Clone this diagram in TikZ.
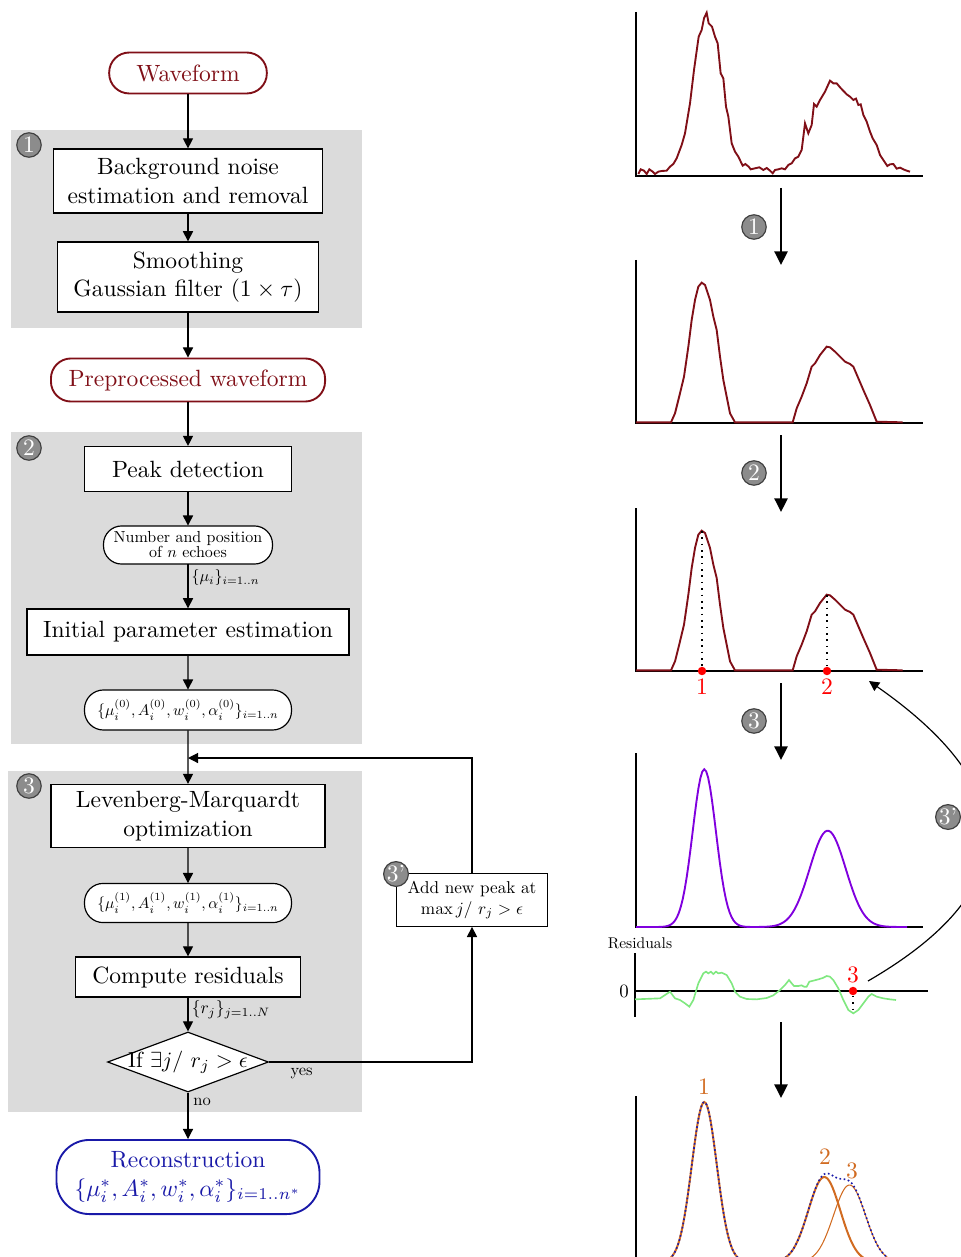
\documentclass[tikz,border=0pt]{standalone}
\usepackage{tikz}
\usetikzlibrary{arrows.meta,shapes.geometric}

\definecolor{wavered}{rgb}{0.50,0.06,0.09}
\definecolor{recblue}{rgb}{0.10,0.10,0.66}
\definecolor{fitpurple}{rgb}{0.50,0.00,0.87}
\definecolor{resgreen}{rgb}{0.50,0.91,0.50}
\definecolor{gaussorange}{rgb}{0.82,0.42,0.13}
\definecolor{stepgray}{gray}{0.86}

\tikzset{
    smalltxt/.style={scale=0.7},
    procbox/.style={draw, fill=white, align=center, inner sep=2pt},
    databox/.style={draw, fill=white, align=center, inner sep=1pt},
    ionode/.style={draw=#1, text=#1, thick, fill=white, rounded corners=8.5pt, align=center},
    stepnum/.style={circle, draw=black!75, fill=black!45, text=white, inner sep=0pt, minimum size=10.4pt},
    bigarrow/.style={line width=0.8pt, -{Triangle[width=5.6pt,length=5.8pt]}},
    axis/.style={line width=0.5pt},
    pkdot/.style={circle, fill=red, inner sep=0pt, minimum size=3.6pt},
}

\begin{document}
\begin{tikzpicture}[x=0.425pt, y=-0.425pt, line width=0.5pt,
    >={Triangle[width=4.3pt,length=4.3pt]}]
    \useasboundingbox (0,0) rectangle (960,1257);

    % grey panels of the three steps
    \fill[stepgray] (11,130) rectangle (362,328);
    \fill[stepgray] (11,432) rectangle (362,744);
    \fill[stepgray] (8,771) rectangle (362,1112);

    % flowchart
    \node[ionode=wavered, minimum width=67pt, minimum height=17.4pt] (wave) at (188,73) {Waveform};
    \node[procbox, minimum width=114.3pt, minimum height=27.2pt] (noise) at (188,181) {Background noise\\estimation and removal};
    \node[procbox, minimum width=111pt, minimum height=29.8pt] (smooth) at (188,277) {Smoothing\\Gaussian filter $(1\times\tau)$};
    \node[ionode=wavered, minimum width=116.5pt, minimum height=18.3pt] (prep) at (188,380) {Preprocessed waveform};
    \node[procbox, minimum width=88pt, minimum height=19.1pt] (peak) at (188,469) {Peak detection};
    \node[databox, scale=0.68, rounded corners=7.7pt, minimum width=105.6pt, minimum height=23.8pt] (echo) at (188,545) {Number and position\\[-2.6pt]of $n$ echoes};
    \node[procbox, minimum width=136.9pt, minimum height=19.6pt] (init) at (188,632) {Initial parameter estimation};
    \node[databox, scale=0.66, rounded corners=8.1pt, minimum width=133.3pt, minimum height=25.8pt] (par0) at (188,710) {$\{\mu_i^{(0)},A_i^{(0)},w_i^{(0)},\alpha_i^{(0)}\}_{i=1..n}$};
    \node[procbox, minimum width=116.5pt, minimum height=26.8pt] (lm) at (188,816) {Levenberg-Marquardt\\optimization};
    \node[databox, scale=0.66, rounded corners=7.9pt, minimum width=133.3pt, minimum height=25.2pt] (par1) at (188,903) {$\{\mu_i^{(1)},A_i^{(1)},w_i^{(1)},\alpha_i^{(1)}\}_{i=1..n}$};
    \node[procbox, minimum width=95.6pt, minimum height=17pt] (resid) at (188,977) {Compute residuals};
    \node[draw, fill=white, diamond, inner sep=0pt, minimum width=68.4pt, minimum height=25.5pt] (test) at (188,1062) {\makebox[0pt]{\scalebox{0.93}{If $\exists j/\ r_j>\epsilon$}}};
    \node[ionode=recblue, rounded corners=14pt, minimum width=111.8pt, minimum height=31.5pt] (rec) at (188,1177) {Reconstruction\\$\{\mu_i^*,A_i^*,w_i^*,\alpha_i^*\}_{i=1..n^*}$};
    \node[procbox, scale=0.73, minimum width=87.9pt, minimum height=30.8pt] (addpk) at (472,900) {Add new peak at\\$\max j/\ r_j>\epsilon$};
    \coordinate (merge) at (188,758);

    \path[->]
    (wave)   edge (noise)
    (noise)  edge (smooth)
    (smooth) edge (prep)
    (prep)   edge (peak)
    (peak)   edge (echo)
    (echo)   edge node[pos=0.3, anchor=west, scale=0.68, inner sep=2pt] {$\{\mu_i\}_{i=1..n}$} (init)
    (init)   edge (par0)
    (par0)   edge (lm)
    (lm)     edge (par1)
    (par1)   edge (resid)
    (resid)  edge node[pos=0.35, anchor=west, scale=0.74, inner sep=2pt] {$\{r_j\}_{j=1..N}$} (test)
    (test)   edge node[pos=0.2, anchor=west, smalltxt, inner sep=3pt] {no} (rec);
    \draw[->] (test.east) -| node[pos=0.08, below, smalltxt] {yes} (addpk.south);
    \draw[->] (addpk.north) |- (merge);

    \foreach \n/\y in {1/145,2/448,3/786}
        {\node[stepnum] (s\n) at (29,\y) {\n};}
    \node[stepnum] (sadd) at (396,874) {3'};

    % plots on the right
    \foreach \t/\b in {12/176,260/423,508/671,753/927,1096/1262}
        {\draw[axis] (636,\t) -- (636,\b) -- (923,\b);}
    \foreach \i/\a/\b in {1/188/265,2/435/512,3/683/760,4/1022/1098}
        {\coordinate (from\i) at (781,\a);
         \coordinate (to\i) at (781,\b);
         \draw[bigarrow] (from\i) -- (to\i);}
    \foreach \n/\y in {1/227,2/473,3/721}
        {\node[stepnum] (r\n) at (754,\y) {\n};}

    % raw waveform
    \draw[wavered, line width=0.8pt, shift={(620,0)}, scale=1/3] plot coordinates {
        (55,522) (62,508) (72,512) (80,522) (88,508) (98,515) (105,522) (115,515) (125,513)
        (140,512) (150,500) (160,492) (170,475) (185,435) (195,400) (210,310) (222,210)
        (236,110) (245,90) (252,55) (260,38) (266,70) (276,80) (285,110) (293,130) (302,220)
        (310,235) (318,320) (325,350) (335,430) (345,455) (355,470) (368,497) (376,492)
        (386,500) (392,508) (405,505) (418,502) (430,510) (440,504) (450,512) (458,520)
        (465,510) (475,508) (485,505) (495,508) (505,495) (515,490) (525,475) (535,470)
        (545,450) (555,370) (565,400) (575,375) (582,312) (590,320) (600,300) (615,275)
        (630,242) (640,250) (650,250) (660,262) (680,283) (690,290) (700,300) (708,296)
        (715,315) (722,313) (730,345) (740,365) (750,395) (758,415) (770,435) (780,465)
        (790,480) (802,498) (810,493) (820,492) (830,506) (840,503) (850,508) (860,512) (870,515)};

    % smoothed waveform, twice
    \foreach \dy in {250,498}
        {\draw[wavered, line width=0.8pt, shift={(620,\dy)}, scale=1/3] plot coordinates {
            (48,517) (153,517) (165,490) (180,430) (192,380) (205,290) (215,210) (225,150)
            (235,110) (245,98) (255,105) (270,150) (280,200) (290,240) (300,320) (310,390)
            (320,440) (330,490) (345,517) (518,517) (530,475) (545,440) (560,400) (575,350)
            (585,340) (600,315) (620,290) (630,292) (645,305) (660,320) (675,335) (690,342)
            (700,350) (715,385) (730,420) (750,465) (770,515) (848,517)};}

    % detected peaks
    \coordinate (top1) at (702,531);
    \coordinate (top2) at (827,595);
    \node[pkdot, label={[red, inner sep=1pt]below:1}] (pk1) at (702,671) {};
    \node[pkdot, label={[red, inner sep=1pt]below:2}] (pk2) at (827,671) {};
    \draw[dotted, line width=0.7pt] (top1) -- (pk1);
    \draw[dotted, line width=0.7pt] (top2) -- (pk2);

    % fitted model
    \draw[fitpurple, line width=0.8pt] plot[domain=636:907, samples=140]
        (\x, {927 - 157.7*exp(-0.5*((\x-704.3)/11.6)^2) - 96.3*exp(-0.5*((\x-827.7)/18)^2)});

    % residuals
    \node[scale=0.66] (reslabel) at (640,943) {Residuals};
    \draw[axis] (635,953) -- (635,1017);
    \draw[axis] (635,991) -- (928,991);
    \node[scale=0.8] (zero) at (624,991) {0};
    \draw[resgreen, line width=0.7pt, shift={(600,930)}, scale=1/3] plot coordinates {
        (105,208) (180,205) (195,195) (210,185) (225,205) (240,210) (255,220) (268,230)
        (280,210) (295,160) (310,130) (318,125) (325,130) (333,125) (340,132) (348,125)
        (355,130) (365,128) (380,135) (395,160) (405,185) (420,200) (440,207) (470,208)
        (500,204) (520,196) (540,180) (555,165) (567,150) (575,160) (582,168) (595,168)
        (605,166) (612,170) (620,170) (628,155) (640,152) (655,148) (668,144) (680,138)
        (690,140) (700,150) (715,175) (730,210) (745,240) (760,250) (775,240) (790,220)
        (805,200) (815,192) (830,200) (850,205) (870,208) (888,210)};
    \coordinate (low3) at (853,1013);
    \node[pkdot, label={[red, inner sep=1pt]above:3}] (pk3) at (853,991) {};
    \draw[dotted, line width=0.7pt] (pk3) -- (low3);

    % feedback of the new peak
    \coordinate (bstart) at (868,981);
    \coordinate (bend) at (869,681);
    \draw[->] (bstart) .. controls (1025,890) and (1025,790) .. (bend);
    \node[stepnum] (radd) at (948,817) {3'};

    % reconstruction
    \draw[gaussorange, line width=0.85pt] plot[domain=640:770, samples=80]
        (\x, {1262 - 160*exp(-0.5*((\x-704.3)/12.5)^2)});
    \draw[gaussorange, line width=0.85pt] plot[domain=760:900, samples=80]
        (\x, {1262 - 85*exp(-0.5*((\x-824.3)/16)^2)});
    \draw[gaussorange, line width=0.45pt] plot[domain=780:912, samples=80]
        (\x, {1262 - 77*exp(-0.5*((\x-849.5)/16)^2)});
    \draw[recblue, line width=0.7pt, dash pattern=on 0.7pt off 1.1pt] plot[domain=640:912, samples=160]
        (\x, {1262 - 10*sqrt((16*exp(-0.5*((\x-704.3)/12.5)^2))^2 + (8.5*exp(-0.5*((\x-824.3)/16)^2))^2 + (7.7*exp(-0.5*((\x-849.5)/16)^2))^2)});
    \node[gaussorange] (g1) at (704,1087) {1};
    \node[gaussorange] (g2) at (825,1157) {2};
    \node[gaussorange] (g3) at (852,1171) {3};
\end{tikzpicture}
\end{document}
